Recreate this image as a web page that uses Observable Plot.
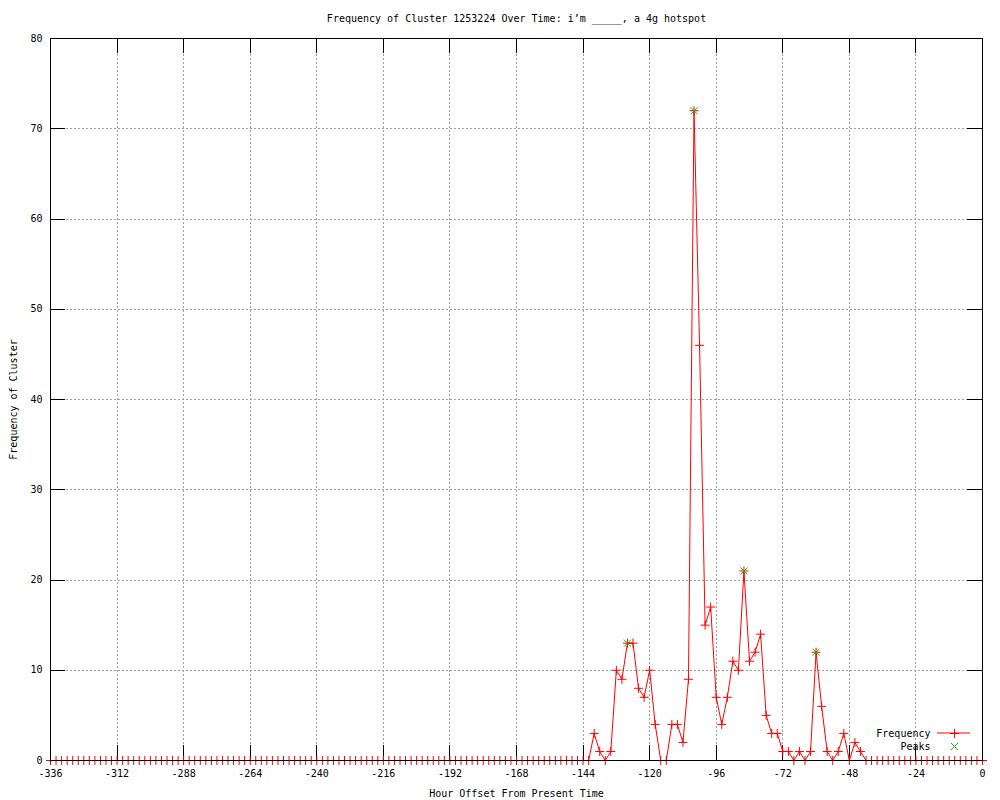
<!DOCTYPE html>
<html><head><meta charset="utf-8">
<script src="https://cdn.jsdelivr.net/npm/d3@7"></script>
<script src="https://cdn.jsdelivr.net/npm/@observablehq/plot@0.6"></script>
<style>body{margin:0;background:#fff} svg{display:block}</style>
</head><body><div id="chart"></div>
<script>
const title = "Frequency of Cluster 1253224 Over Time: i\u2019m _____, a 4g hotspot";
const xLabel = "Hour Offset From Present Time";
const yLabel = "Frequency of Cluster";
const legendLabels = ["Frequency", "Peaks"];
const xTicks = [-336,-312,-288,-264,-240,-216,-192,-168,-144,-120,-96,-72,-48,-24,0];
const yTicks = [0,10,20,30,40,50,60,70,80];

// one sample every 2 hours, from -336 to 0
const hours = d3.range(-336, 1, 2);
const values = [
  0,0,0,0,0,0,0,0,0,0,0,0,0,0,
  0,0,0,0,0,0,0,0,0,0,0,0,0,0,
  0,0,0,0,0,0,0,0,0,0,0,0,0,0,
  0,0,0,0,0,0,0,0,0,0,0,0,0,0,
  0,0,0,0,0,0,0,0,0,0,0,0,0,0,
  0,0,0,0,0,0,0,0,0,0,0,0,0,0,
  0,0,0,0,0,0,0,0,0,0,0,0,0,0,
  // -140 .. -42
  3,1,0,1,10,9,13,13,8,7,10,4,0,0,4,4,2,9,72,46,
  15,17,7,4,7,11,10,21,11,12,14,5,3,3,1,1,0,1,0,1,
  12,6,1,0,1,3,0,2,1,0,
  // -40 .. 0
  0,0,0,0,0,0,0,0,0,0,0,0,0,0,
  0,0,0,0,0,0,0
];
const peakHours = [-128, -104, -86, -60];
const peakValues = [13, 72, 21, 12];

const data = hours.map((h, i) => ({hour: h, freq: values[i]}));
const peaks = peakHours.map((h, i) => ({hour: h, freq: peakValues[i]}));

const W = 1000, H = 800, mL = 50, mR = 18, mT = 38, mB = 40;
const fw = W - mL - mR, fh = H - mT - mB;
const font = "'DejaVu Sans Mono', monospace";
const innerX = xTicks.slice(1, -1), innerY = yTicks.slice(1, -1);
const gridStyle = {stroke: "#a0a0a0", strokeOpacity: 1, strokeDasharray: "2,2", shapeRendering: "crispEdges"};
const tickStyle = {stroke: "#000", strokeWidth: 1, shapeRendering: "crispEdges"};
const txt = {fontSize: 10, lineAnchor: "middle"};

const chart = Plot.plot({
  width: W, height: H,
  marginLeft: mL, marginRight: mR, marginTop: mT, marginBottom: mB,
  style: {fontFamily: font, fontSize: "10px", background: "#fff", color: "#000"},
  x: {domain: [-336, 0]},
  y: {domain: [0, 80]},
  marks: [
    Plot.gridX(innerX, gridStyle),
    Plot.gridY(innerY, gridStyle),
    Plot.tickX(innerX, {x: d => d, insetTop: fh - 15, ...tickStyle}),
    Plot.tickX(innerX, {x: d => d, insetBottom: fh - 15, ...tickStyle}),
    Plot.tickY(innerY, {y: d => d, insetRight: fw - 15, ...tickStyle}),
    Plot.tickY(innerY, {y: d => d, insetLeft: fw - 15, ...tickStyle}),
    Plot.axisX(xTicks, {tickSize: 0, tickPadding: 9, tickFormat: d => String(d), label: null, fontSize: 10}),
    Plot.axisY(yTicks, {tickSize: 0, tickPadding: 8, tickFormat: d => String(d), label: null, fontSize: 10}),
    Plot.line(data, {x: "hour", y: "freq", stroke: "#ff0000", strokeWidth: 1}),
    Plot.dot(data, {x: "hour", y: "freq", symbol: "plus", stroke: "#ff0000", strokeWidth: 1, r: 3}),
    Plot.dot(peaks, {x: "hour", y: "freq", symbol: "times", stroke: "#00c000", strokeWidth: 1, r: 3.3}),
    Plot.frame({stroke: "#000", strokeWidth: 1, shapeRendering: "crispEdges"}),
    Plot.text([title], {frameAnchor: "top", dy: -20, textAnchor: "middle", ...txt}),
    Plot.text([xLabel], {frameAnchor: "bottom", dy: 33, textAnchor: "middle", ...txt}),
    Plot.text([yLabel], {frameAnchor: "left", dx: -37, rotate: -90, textAnchor: "middle", ...txt}),
    Plot.text([legendLabels[0]], {frameAnchor: "bottom-right", dx: -52, dy: -27, textAnchor: "end", ...txt}),
    Plot.text([legendLabels[1]], {frameAnchor: "bottom-right", dx: -52, dy: -14, textAnchor: "end", ...txt}),
    Plot.dot([0], {frameAnchor: "bottom-right", dx: -28, dy: -27, symbol: "plus", stroke: "#ff0000", strokeWidth: 1, r: 3}),
    Plot.dot([0], {frameAnchor: "bottom-right", dx: -28, dy: -14, symbol: "times", stroke: "#00c000", strokeWidth: 1, r: 3.3})
  ]
});

// legend line sample
d3.select(chart).append("line")
  .attr("x1", W - mR - 45).attr("x2", W - mR - 12)
  .attr("y1", H - mB - 27).attr("y2", H - mB - 27)
  .attr("stroke", "#ff0000").attr("stroke-width", 1);

document.getElementById("chart").appendChild(chart);
</script>
</body></html>
